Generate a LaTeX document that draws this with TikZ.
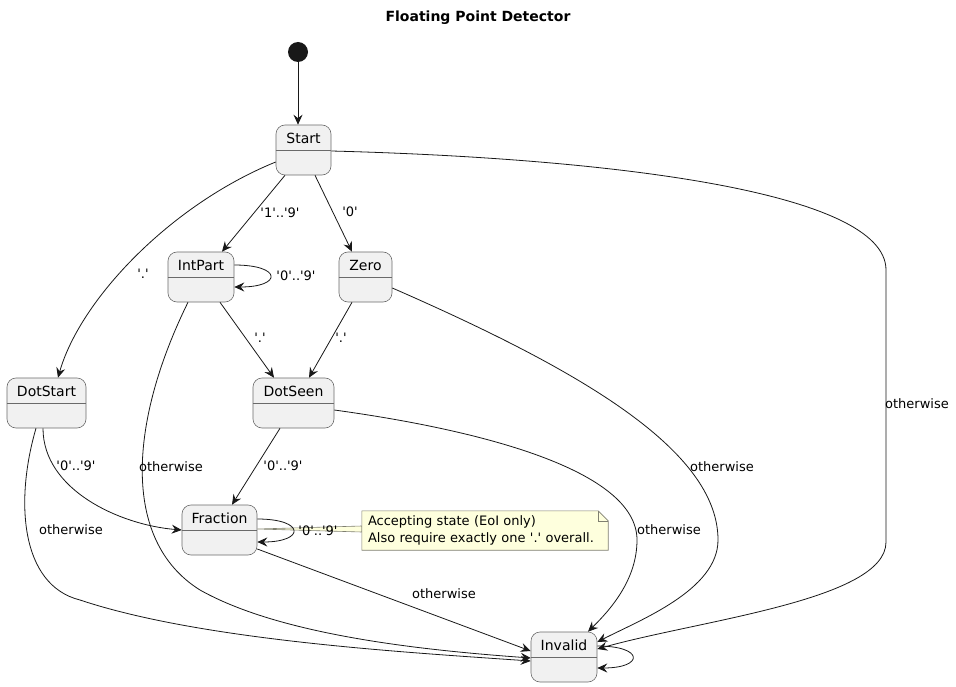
\documentclass[tikz,border=0pt]{standalone}
\usepackage{fontspec}
\setmainfont{DejaVu Sans}
\usetikzlibrary{arrows.meta,backgrounds}

\definecolor{statefill}{HTML}{F1F1F1}
\definecolor{lineclr}{HTML}{181818}
\definecolor{boxclr}{HTML}{6A6A6A}
\definecolor{notefill}{HTML}{FEFFDD}
\definecolor{noteclr}{HTML}{7F7F70}
\newcommand\q{\textquotesingle}

\begin{document}
\begin{tikzpicture}
    [x=1pt, y=-1pt, >={Stealth[length=10pt,width=9pt,inset=3.5pt]},
     state/.style={draw=boxclr, fill=statefill, rounded corners=9pt,
      line width=0.6pt, minimum height=50pt, inner sep=0pt},
     statename/.style={font=\fontsize{14}{16}\selectfont, inner sep=0pt},
     lbl/.style={font=\fontsize{13}{15}\selectfont, inner sep=0pt},
     trans/.style={->, draw=lineclr, line width=0.8pt},
     notebox/.style={draw=noteclr, fill=notefill, line width=0.6pt}]

    \useasboundingbox (0,0) rectangle (956,687);

    \node[font=\bfseries\fontsize{14}{16}\selectfont] (title) at (478,18) {Floating Point Detector};

    \node[circle, fill=lineclr, minimum size=20pt, inner sep=0pt] (init) at (298,52) {};

    % states: name/text/x/y/width
    \foreach \s/\t/\x/\y/\w in {start/Start/303.5/150/55, intpart/IntPart/201/277/66,
      zero/Zero/365.5/277/53, dotstart/DotStart/46.5/403/79, dotseen/DotSeen/293.5/403/81,
      fraction/Fraction/219.5/530/75, invalid/Invalid/564/657/66}
    {
      \node[state, minimum width=\w pt] (\s) at (\x,\y) {};
      \draw[boxclr, line width=0.6pt] (\s.west) -- (\s.east);
      \node[statename] (\s-name) at ([yshift=12pt]\s.center) {\t};
    }

    % note on Fraction
    \node[font=\fontsize{13}{17}\selectfont, text width=234pt, align=left,
      inner xsep=6pt, inner ysep=0pt, minimum height=39pt] (note) at (485,530.5)
      {Accepting state (EoI only)\\Also require exactly one \q.\q\ overall.};
    \begin{scope}[on background layer]
      \filldraw[notebox] ([yshift=1pt]fraction.east) -- ([yshift=4.5pt]note.west) -- ([yshift=-1.5pt]note.west) -- cycle;
      \filldraw[notebox] (note.south west) -- (note.north west) -- ([xshift=-10pt]note.north east)
        -- ([yshift=-10pt]note.north east) -- (note.south east) -- cycle;
    \end{scope}
    \draw[notebox, fill=none] ([xshift=-10pt]note.north east) |- ([yshift=-10pt]note.north east);

    % transitions
    \draw[trans] (init) -- (init |- start.north);
    \draw[trans] ([xshift=-18.5pt]start.south) -- ([xshift=21pt]intpart.north);
    \draw[trans] ([xshift=11.5pt]start.south) -- ([xshift=-13.5pt]zero.north);
    \draw[trans] ([yshift=-12pt]start.west) .. controls (170,205) and (80,300) .. ([xshift=11.5pt]dotstart.north);
    \draw[trans] ([yshift=-1pt]start.east) .. controls (600,158) and (886,190) .. (886,270) -- (886,542)
      .. controls (886,600) and (700,620) .. ([yshift=8pt]invalid.east);
    \draw[trans] ([yshift=12pt]intpart.east) .. controls +(48,0) and +(48,0) .. ([yshift=-10pt]intpart.east);
    \draw[trans] ([xshift=19pt]intpart.south) -- ([xshift=-19.5pt]dotseen.north);
    \draw[trans] ([xshift=-13pt]intpart.south) .. controls (130,420) and (120,540) .. (200,590)
      .. controls (280,635) and (420,650) .. ([yshift=-1pt]invalid.west);
    \draw[trans] ([xshift=-13.5pt]zero.south) -- ([xshift=15.5pt]dotseen.north);
    \draw[trans] ([yshift=-11pt]zero.east) .. controls (580,370) and (718,450) .. (718,540)
      .. controls (718,590) and (640,620) .. ([yshift=15pt]invalid.east);
    \draw[trans] ([xshift=-13.5pt]dotseen.south) -- ([xshift=12.5pt]fraction.north);
    \draw[trans] ([yshift=-7pt]dotseen.east) .. controls (480,430) and (637,470) .. (637,540)
      .. controls (637,580) and (610,610) .. ([xshift=24pt]invalid.north);
    \draw[trans] ([xshift=-3.5pt]dotstart.south) .. controls (43,490) and (120,525) .. (fraction.west);
    \draw[trans] ([xshift=-10.5pt]dotstart.south) .. controls (15,500) and (20,585) .. (80,600)
      .. controls (200,640) and (400,652) .. ([yshift=-4pt]invalid.west);
    \draw[trans] ([yshift=11pt]fraction.east) .. controls +(48,0) and +(48,0) .. ([yshift=-12pt]fraction.east);
    \draw[trans] ([yshift=-19pt]fraction.east) -- ([yshift=6pt]invalid.west);
    \draw[trans] ([yshift=11pt]invalid.east) .. controls +(47,0) and +(47,0) .. ([yshift=-11pt]invalid.east);

    % labels: name/x/y/text
    \foreach \n/\x/\y/\t in {l-start-intpart/280/213/{\q1\q..\q9\q}, l-start-zero/350/212/{\q0\q},
      l-start-dotstart/143/274/{\q.\q}, l-intpart-loop/296/276/{\q0\q..\q9\q},
      l-intpart-dotseen/260/338/{\q.\q}, l-zero-dotseen/341/338/{\q.\q},
      l-dotseen-fraction/283/466/{\q0\q..\q9\q}, l-dotstart-fraction/76/466/{\q0\q..\q9\q},
      l-intpart-invalid/171/467/otherwise, l-dotstart-invalid/71/530/otherwise,
      l-fraction-loop/318/531/{\q0\q..\q9\q}, l-fraction-invalid/444/594/otherwise,
      l-dotseen-invalid/669/530/otherwise, l-zero-invalid/722/467/otherwise,
      l-start-invalid/917/404/otherwise}
    {
      \node[lbl] (\n) at (\x,\y) {\t};
    }
\end{tikzpicture}
\end{document}
